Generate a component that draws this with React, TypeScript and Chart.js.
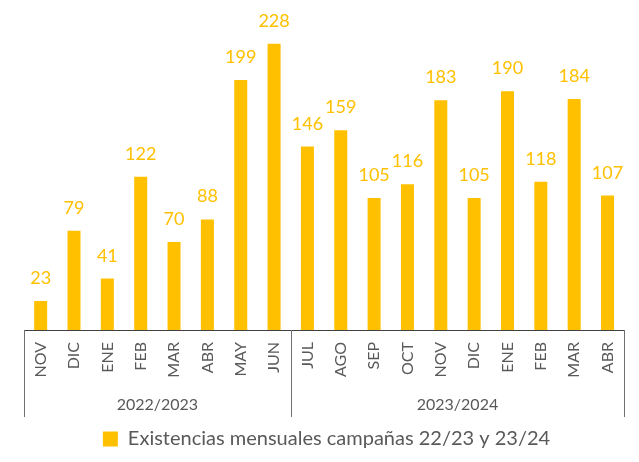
import React, { useEffect, useRef } from "react";
import { Chart, registerables } from "chart.js";

Chart.register(...registerables);

const months = ["NOV", "DIC", "ENE", "FEB", "MAR", "ABR", "MAY", "JUN", "JUL", "AGO", "SEP", "OCT", "NOV", "DIC", "ENE", "FEB", "MAR", "ABR"];
const values = [23, 79, 41, 122, 70, 88, 199, 228, 146, 159, 105, 116, 183, 105, 190, 118, 184, 107];
const groups = ["2022/2023", "2023/2024"];
const groupSizes = [8, 10];
const seriesLabel = "Existencias mensuales campañas 22/23 y 23/24";

const YELLOW = "#FFC000";
const GRAY = "#595959";
const FONT = "Lato, 'Open Sans', sans-serif";

const overlay = {
  id: "overlay",
  afterDatasetsDraw(chart: any) {
    const ctx = chart.ctx;
    const meta = chart.getDatasetMeta(0);
    ctx.save();
    ctx.fillStyle = YELLOW;
    ctx.font = `18px ${FONT}`;
    ctx.textAlign = "center";
    ctx.textBaseline = "alphabetic";
    meta.data.forEach((el: any, i: number) => {
      ctx.fillText(String(values[i]), el.x, el.y - 17);
    });
    ctx.restore();
  },
  afterDraw(chart: any) {
    const ctx = chart.ctx;
    const x = chart.scales.x;
    const area = chart.chartArea;
    const bottom = area.bottom;
    const depth = 87;
    ctx.save();
    ctx.strokeStyle = "#404040";
    ctx.lineWidth = 1;
    ctx.beginPath();
    ctx.moveTo(area.left, bottom + 0.5);
    ctx.lineTo(area.right, bottom + 0.5);
    ctx.stroke();
    ctx.strokeStyle = "#6f6f6f";
    const bounds: number[] = [area.left];
    let idx = 0;
    groupSizes.forEach((n, gi) => {
      idx += n;
      if (gi < groupSizes.length - 1) {
        bounds.push((x.getPixelForValue(idx - 1) + x.getPixelForValue(idx)) / 2);
      }
    });
    bounds.push(area.right);
    bounds.forEach((bx) => {
      const px = Math.round(bx) + 0.5;
      ctx.beginPath();
      ctx.moveTo(px, bottom);
      ctx.lineTo(px, bottom + depth);
      ctx.stroke();
    });
    ctx.fillStyle = GRAY;
    ctx.font = `16px ${FONT}`;
    ctx.textAlign = "center";
    ctx.textBaseline = "middle";
    groups.forEach((g, gi) => {
      ctx.fillText(g, (bounds[gi] + bounds[gi + 1]) / 2, bottom + 75);
    });
    ctx.restore();
  },
};

export default function App() {
  const ref = useRef<HTMLCanvasElement>(null);
  useEffect(() => {
    if (!ref.current) return;
    const chart = new Chart(ref.current, {
      type: "bar",
      data: {
        labels: months,
        datasets: [
          {
            label: seriesLabel,
            data: values,
            backgroundColor: YELLOW,
            borderWidth: 0,
            barPercentage: 0.39,
            categoryPercentage: 1,
          },
        ],
      },
      options: {
        animation: false,
        responsive: false,
        layout: { padding: { left: 24, right: 10, top: 16, bottom: 3 } },
        scales: {
          y: { display: false, min: 0, max: 250 },
          x: {
            grid: { display: false, drawTicks: false },
            border: { display: false },
            ticks: {
              color: GRAY,
              font: { family: FONT, size: 16 },
              minRotation: 90,
              maxRotation: 90,
              padding: 12,
              autoSkip: false,
            },
            afterFit(scale: any) {
              scale.height = 87;
            },
          },
        },
        plugins: {
          legend: {
            position: "bottom",
            labels: {
              color: GRAY,
              font: { family: FONT, size: 20 },
              boxWidth: 15,
              boxHeight: 15,
              padding: 12,
            },
          },
          tooltip: { enabled: false },
        },
      },
      plugins: [overlay],
    });
    return () => chart.destroy();
  }, []);
  return (
    <div style={{ position: "fixed", left: 0, top: 0, width: 639, height: 462, background: "#fff" }}>
      <canvas ref={ref} width={639} height={462} />
    </div>
  );
}
